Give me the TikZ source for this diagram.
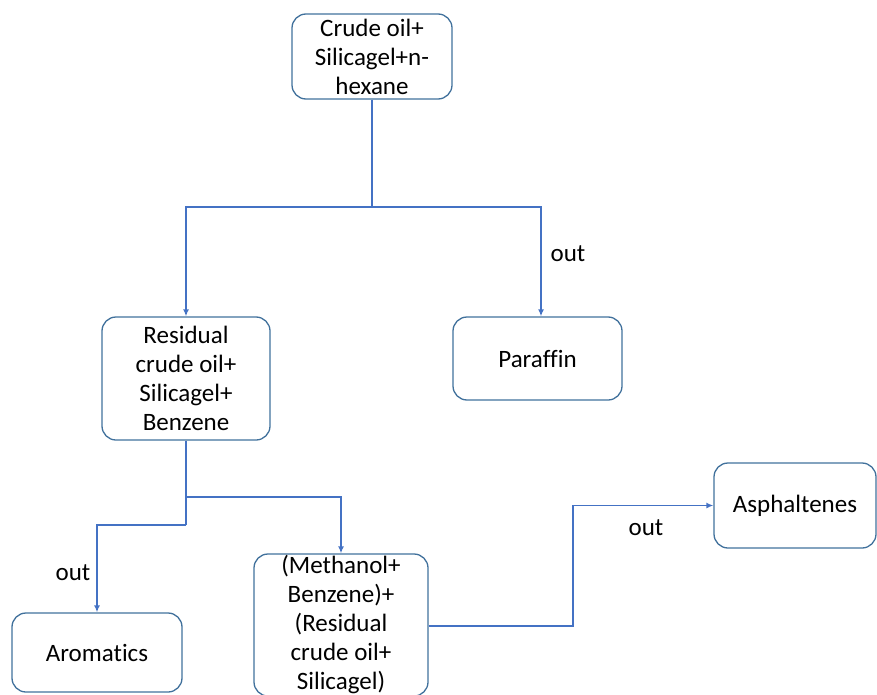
\documentclass[tikz,border=0pt]{standalone}
\usepackage{fontspec}
\setmainfont{Carlito}[Ligatures=NoCommon]
\usetikzlibrary{arrows.meta,calc}
\definecolor{linkblue}{HTML}{4472C4}
\definecolor{boxblue}{HTML}{41719C}

\begin{document}
\begin{tikzpicture}[x=1pt,y=-1pt,
  box/.style={draw=boxblue,line width=1.3pt,rounded corners=14pt,align=center,
    inner sep=0pt,font=\fontsize{25}{29}\selectfont},
  link/.style={draw=linkblue,line width=1.4pt},
  lbl/.style={font=\fontsize{25}{29}\selectfont}]

\useasboundingbox (0,0) rectangle (877,695);

\node[box,minimum width=160pt,minimum height=85pt] (top) at (372,56.5) {Crude oil+\\Silicagel+n-\\hexane};
\node[box,minimum width=168pt,minimum height=123pt] (res) at (186,378.5) {Residual\\crude oil+\\Silicagel+\\Benzene};
\node[box,minimum width=169pt,minimum height=83pt] (par) at (537.5,358.5) {Paraffin};
\node[box,minimum width=162pt,minimum height=85pt] (asph) at (795,505.5) {Asphaltenes};
\node[box,minimum width=170pt,minimum height=79pt] (arom) at (97,652.5) {Aromatics};
\node[box,minimum width=174pt,minimum height=142pt] (meth) at (341,625) {(Methanol+\\Benzene)+\\(Residual\\crude oil+\\Silicagel)};

\coordinate (j1) at (372,207);
\coordinate (j2) at (186,497);
\coordinate (j3) at (186,525);
\coordinate (j4) at (573,626);

\draw[link] (top.south) -- (j1);
\draw[link,-{Latex[length=7pt,width=6pt]}] (j1) -| (res.north);
\draw[link,-{Latex[length=7pt,width=6pt]}] (j1) -| ($(par.north)+(3.5,0)$);
\draw[link] (res.south) -- (j3);
\draw[link,-{Latex[length=7pt,width=6pt]}] (j3) -| (arom.north);
\draw[link,-{Latex[length=7pt,width=6pt]}] (j2) -| (meth.north);
\draw[link,-{Latex[length=7pt,width=6pt]}] (meth.east |- j4) -- (j4) |- (asph.west);

\node[lbl] (out1) at (568,254) {out};
\node[lbl] (out2) at (73,573) {out};
\node[lbl] (out3) at (646,528) {out};

\end{tikzpicture}
\end{document}
